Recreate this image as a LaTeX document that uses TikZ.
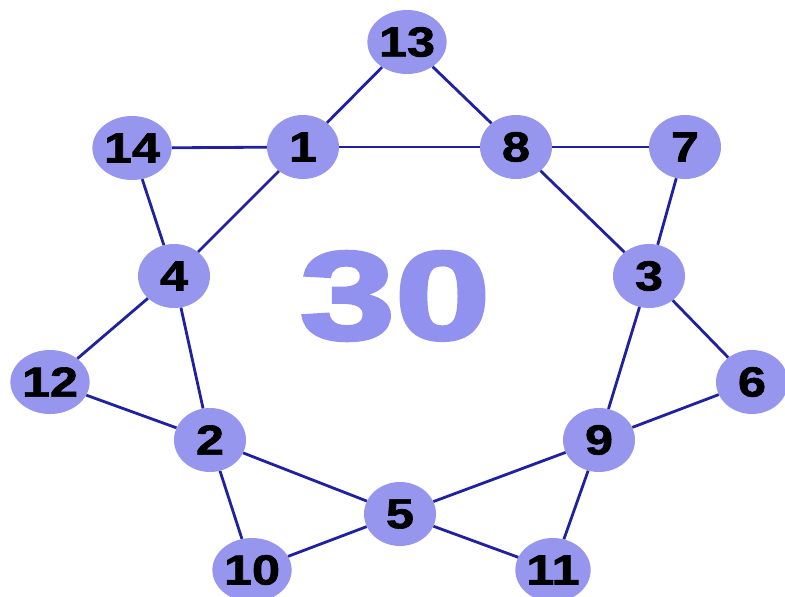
\documentclass[tikz,border=0pt]{standalone}
\usepackage{fontspec}
\setmainfont{Liberation Sans}
\newfontfamily\heavyfont[FakeBold=1.5]{Liberation Sans Bold}
\newfontfamily\bigfont[FakeBold=2.5]{Liberation Sans Bold}
\usetikzlibrary{shapes.geometric}
\definecolor{nodefill}{RGB}{150,150,238}
\definecolor{edgecol}{RGB}{32,32,160}
\definecolor{bigcol}{RGB}{145,145,240}
\tikzset{
  vtx/.style={ellipse, fill=nodefill, minimum width=72pt, minimum height=64pt, inner sep=0pt,
    font=\fontsize{42}{42}\heavyfont, text=black},
  edge/.style={draw=edgecol, line width=2.8pt}
}
\newcommand{\widen}[1]{\scalebox{1.2}[1]{#1}}
\begin{document}
\begin{tikzpicture}[x=1pt,y=-1pt]
\useasboundingbox (0,0) rectangle (785,597);
\node[vtx] (n13) at (407,42) {\widen{13}};
\node[vtx] (n14) at (132,148) {\widen{14}};
\node[vtx] (n1) at (303,147) {\widen{1}};
\node[vtx] (n8) at (516,147) {\widen{8}};
\node[vtx] (n7) at (685,147) {\widen{7}};
\node[vtx] (n4) at (174,276) {\widen{4}};
\node[vtx] (n3) at (649,276) {\widen{3}};
\node[vtx] (n12) at (50,382) {\widen{12}};
\node[vtx] (n6) at (752,382) {\widen{6}};
\node[vtx] (n2) at (210,440) {\widen{2}};
\node[vtx] (n9) at (599,440) {\widen{9}};
\node[vtx] (n5) at (400,514) {\widen{5}};
\node[vtx] (n10) at (252,570) {\widen{10}};
\node[vtx] (n11) at (553,570) {\widen{11}};
\node[text=bigcol, font=\fontsize{126}{126}\bigfont] (big) at (395,296) {\scalebox{1.36}[1]{30}};
\foreach \a/\b in {n13/n1, n13/n8, n14/n1, n1/n8, n8/n7, n14/n4, n1/n4, n8/n3, n7/n3,
  n4/n12, n4/n2, n3/n6, n3/n9, n12/n2, n6/n9, n2/n5, n9/n5, n2/n10, n9/n11, n10/n5, n5/n11}
  \draw[edge] (\a) -- (\b);
\end{tikzpicture}
\end{document}
